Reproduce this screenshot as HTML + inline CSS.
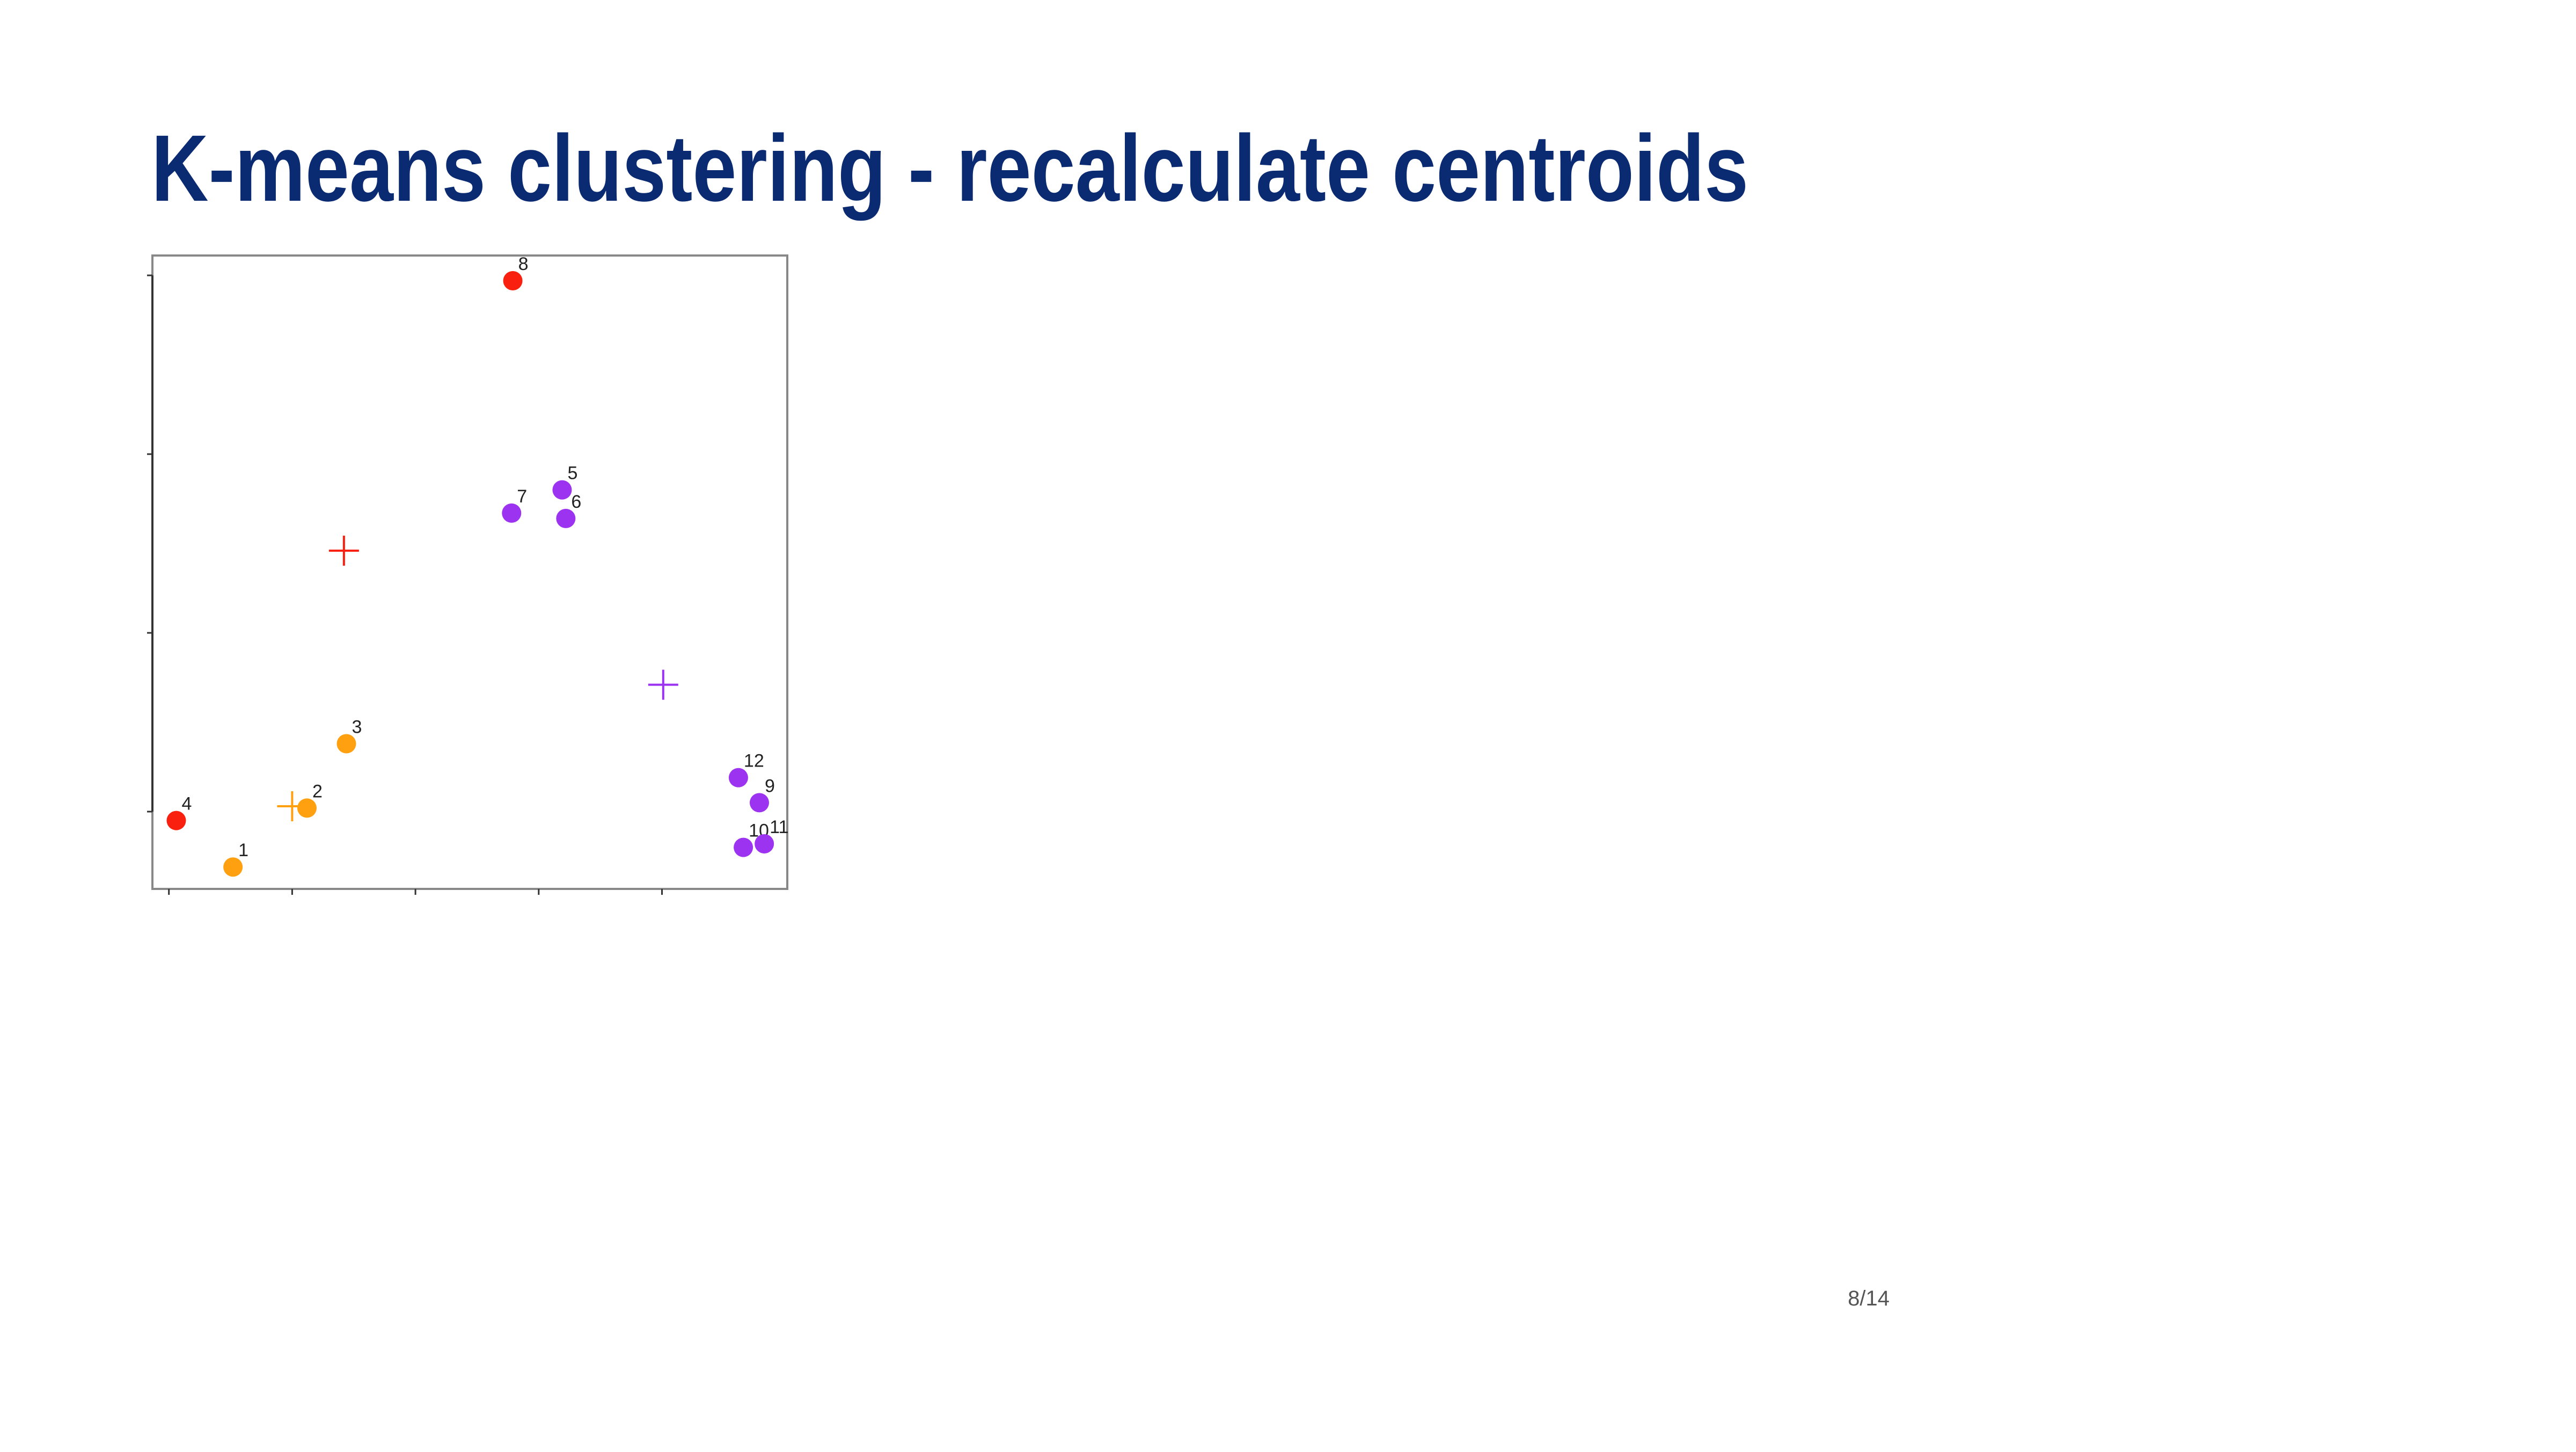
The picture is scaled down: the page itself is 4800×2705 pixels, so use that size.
<!DOCTYPE html>
<html><head><meta charset="utf-8"><style>
html,body{margin:0;padding:0;background:#fff;}
body{width:4800px;height:2700px;position:relative;overflow:hidden;}
</style></head><body>
<svg width="4800" height="2700" xmlns="http://www.w3.org/2000/svg">
<text x="282" y="374" font-family="'Liberation Sans Narrow','Liberation Sans',sans-serif" font-weight="bold" font-size="176" fill="#0a2a72" textLength="2976" lengthAdjust="spacingAndGlyphs">K-means clustering - recalculate centroids</text>
<g id="chart">
<rect x="284" y="476" width="1183" height="1180" fill="none" stroke="#888" stroke-width="4"/>
</g>
<text x="3482" y="2432" text-anchor="middle" font-family="'Liberation Sans',sans-serif" font-size="40" fill="#555">8/14</text>
</svg>
<script>
const labels=["1","2","3","4","5","6","7","8","9","10","11","12"];
const xs=[0.52,1.12,1.44,0.06,3.19,3.22,2.78,2.79,4.79,4.66,4.83,4.62];
const ys=[-0.31,0.02,0.38,-0.05,1.80,1.64,1.67,2.97,0.05,-0.20,-0.18,0.19];
const clusters=["orange","orange","orange","red","purple","purple","purple","red","purple","purple","purple","purple"];
const centroidX=[1.42,1.00,4.01];
const centroidY=[1.46,0.03,0.71];
const centroidCluster=["red","orange","purple"];
const xTicks=[0,1,2,3,4];
const yTicks=[0,1,2,3];
const colors={red:"#fa2010",orange:"#ffa010",purple:"#9b33f0"};
const NS="http://www.w3.org/2000/svg";
const g=document.getElementById("chart");
const sx=v=>314.7+229.7*v, sy=v=>1512-333*v;
function mk(t,a){const e=document.createElementNS(NS,t);for(const k in a)e.setAttribute(k,a[k]);g.appendChild(e);return e;}
mk("line",{x1:284,y1:sy(0),x2:284,y2:sy(3),stroke:"#333","stroke-width":4});
xTicks.forEach(v=>{const t=mk("line",{x1:sx(v),y1:1656,x2:sx(v),y2:1667,stroke:"#333","stroke-width":3});

});
yTicks.forEach(v=>{const t=mk("line",{x1:274,y1:sy(v),x2:284,y2:sy(v),stroke:"#333","stroke-width":3});

});
centroidX.forEach((v,i)=>{const x=sx(v),y=sy(centroidY[i]),c=colors[centroidCluster[i]];
const p=mk("path",{d:`M${x-28} ${y}H${x+28}M${x} ${y-28}V${y+28}`,stroke:c,"stroke-width":4,fill:"none"});

});
xs.forEach((v,i)=>{const x=sx(v),y=sy(ys[i]);
const c=mk("circle",{cx:x,cy:y,r:18,fill:colors[clusters[i]]});


const t=mk("text",{x:x+10,y:y-20,"font-family":"Liberation Sans,sans-serif","font-size":34,fill:"#222"});
t.textContent=labels[i];

});
</script>
</body></html>
